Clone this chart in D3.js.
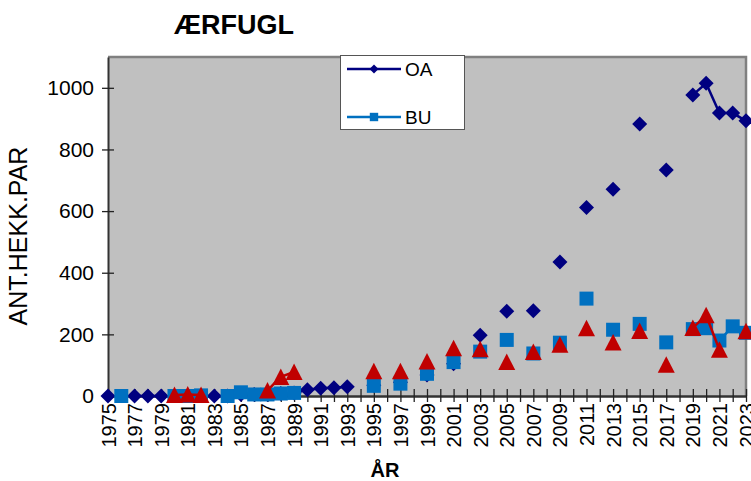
<!DOCTYPE html>
<html>
<head>
<meta charset="utf-8">
<script src="https://cdn.jsdelivr.net/npm/d3@7"></script>
<style>
  body { margin: 0; background: #fff; }
  svg { display: block; font-family: "Liberation Sans", Arial, sans-serif; }
</style>
</head>
<body>
<div id="chart"></div>
<script>
// years on the category axis
var years = d3.range(1975, 2024);
var yTicks = [0, 200, 400, 600, 800, 1000];

// values per year, 1975 .. 2023 (null = no count)
var oa = [0, null, 0, 0, 0, null, null, null, 0, 0,
          5, 5, 5, 8, 10, 20, 25, 27, 30, null,
          35, null, 45, null, 68, null, 105, null, 197, null,
          275, null, 277, null, 435, null, 612, null, 671, null,
          883, null, 733, null, 977, 1015, 918, 918, 893];
var bu = [null, 0, null, null, null, 0, 0, 2, null, 0,
          12, 5, 5, 8, 10, null, null, null, null, null,
          33, null, 40, null, 72, null, 110, null, 144, null,
          182, null, 138, null, 173, null, 316, null, 215, null,
          234, null, 174, null, 217, 220, 180, 226, 205];
var red = [null, null, null, null, null, 3, 5, 3, null, null,
          null, null, 18, 62, 78, null, null, null, null, null,
          80, null, 80, null, 112, null, 155, null, 152, null,
          110, null, 143, null, 166, null, 220, null, 174, null,
          211, null, 101, null, 221, 262, 150, null, 210];

var width = 751, height = 481;
var plot = { left: 108, right: 746, top: 57, bottom: 396 };

var svg = d3.select('#chart').append('svg')
  .attr('width', width)
  .attr('height', height);

var x = d3.scalePoint().domain(years).range([plot.left, plot.right]).padding(0);
var y = d3.scaleLinear().domain([0, 1100]).range([plot.bottom, plot.top]);

// plot area
svg.append('rect')
  .attr('x', plot.left).attr('y', plot.top)
  .attr('width', plot.right - plot.left).attr('height', plot.bottom - plot.top)
  .attr('fill', '#c0c0c0');
svg.append('path')
  .attr('d', 'M' + plot.left + ',' + plot.top + 'H' + plot.right + 'V' + plot.bottom)
  .attr('fill', 'none').attr('stroke', '#808080').attr('stroke-width', 2.5);

// y axis
var gy = svg.append('g')
  .attr('transform', 'translate(' + plot.left + ',0)')
  .call(d3.axisLeft(y).tickValues(yTicks).tickSize(0).tickPadding(14).tickFormat(d3.format('d')));
gy.select('.domain').attr('stroke', '#333').attr('stroke-width', 2);
gy.selectAll('.tick line').attr('x1', -6).attr('x2', 6).attr('stroke', '#222').attr('stroke-width', 1.3);
gy.selectAll('.tick text').attr('font-size', 21).attr('fill', '#000');

// x axis
var gx = svg.append('g')
  .attr('transform', 'translate(0,' + plot.bottom + ')')
  .call(d3.axisBottom(x).tickValues(years).tickSize(0)
    .tickFormat(function(d) { return (d - 1975) % 2 === 0 ? d : ''; }));
gx.select('.domain').attr('stroke', '#333').attr('stroke-width', 2.5);
gx.selectAll('.tick line').attr('y1', -7).attr('y2', 6).attr('stroke', '#222').attr('stroke-width', 1.3);
gx.selectAll('.tick text')
  .attr('font-size', 20).attr('fill', '#000')
  .attr('transform', 'rotate(-90)')
  .attr('text-anchor', 'end')
  .attr('x', -7).attr('y', 0).attr('dy', '0.35em');

// series
function addSeries(values, color, marker) {
  var pts = years.map(function(yr, i) { return { year: yr, value: values[i] }; });
  var line = d3.line()
    .defined(function(d) { return d.value != null; })
    .x(function(d) { return x(d.year); })
    .y(function(d) { return y(d.value); });
  svg.append('path')
    .datum(pts)
    .attr('fill', 'none')
    .attr('stroke', color)
    .attr('stroke-width', 2.5)
    .attr('d', line);
  svg.append('g').selectAll('path')
    .data(pts.filter(function(d) { return d.value != null; }))
    .enter().append('path')
    .attr('fill', color)
    .attr('transform', function(d) { return 'translate(' + x(d.year) + ',' + y(d.value) + ')'; })
    .attr('d', marker);
}

var diamond = 'M0,-7.5L7.5,0L0,7.5L-7.5,0Z';
var square = 'M-7,-7H7V7H-7Z';
var triangle = 'M0,-8.5L8.5,8L-8.5,8Z';

addSeries(oa, '#000080', diamond);
addSeries(bu, '#0070c0', square);
addSeries(red, '#c00000', triangle);

// legend
var lg = svg.append('g');
lg.append('rect')
  .attr('x', 340.5).attr('y', 55.5).attr('width', 124).attr('height', 74)
  .attr('fill', '#fff').attr('stroke', '#555').attr('stroke-width', 1);
var legendItems = [
  { name: 'OA', color: '#000080', marker: diamond, y: 69 },
  { name: 'BU', color: '#0070c0', marker: square, y: 117 }
];
legendItems.forEach(function(it) {
  lg.append('line')
    .attr('x1', 347).attr('x2', 401).attr('y1', it.y).attr('y2', it.y)
    .attr('stroke', it.color).attr('stroke-width', 2.5);
  lg.append('path')
    .attr('transform', 'translate(374,' + it.y + ') scale(0.6)')
    .attr('d', it.marker).attr('fill', it.color);
  lg.append('text')
    .attr('x', 405).attr('y', it.y).attr('dy', '0.36em')
    .attr('font-size', 19).text(it.name);
});

// titles
svg.append('text')
  .attr('x', 174).attr('y', 34)
  .attr('font-size', 27).attr('font-weight', 'bold')
  .text('ÆRFUGL');
svg.append('text')
  .attr('transform', 'translate(27,236) rotate(-90)')
  .attr('text-anchor', 'middle')
  .attr('font-size', 25)
  .text('ANT.HEKK.PAR');
svg.append('text')
  .attr('x', 385).attr('y', 477)
  .attr('text-anchor', 'middle')
  .attr('font-size', 20).attr('font-weight', 'bold')
  .text('ÅR');
</script>
</body>
</html>
